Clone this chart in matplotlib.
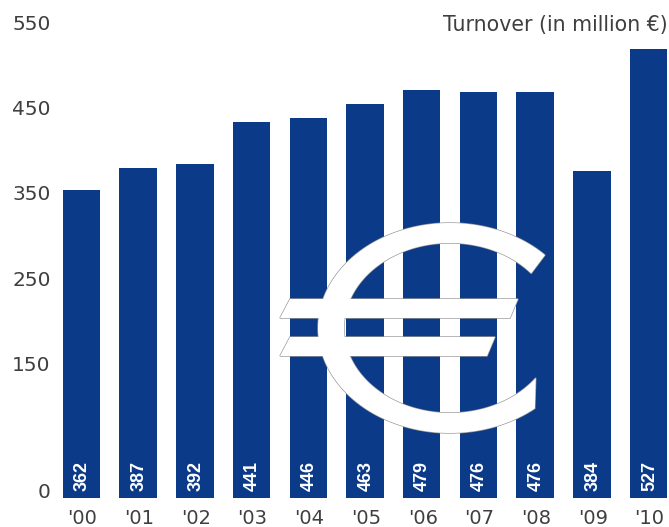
import numpy as np
import matplotlib
matplotlib.use('Agg')
import matplotlib.pyplot as plt
from matplotlib.patches import Polygon

years = ["'00", "'01", "'02", "'03", "'04", "'05", "'06", "'07", "'08", "'09", "'10"]
turnover = [362, 387, 392, 441, 446, 463, 479, 476, 476, 384, 527]
axis_ticks = [0, 150, 250, 350, 450, 550]

NAVY = '#0b3a88'
GREY = '#3f3f3f'
W, H = 669, 527

fig = plt.figure(figsize=(W / 100, H / 100), dpi=100, facecolor='white')

# bars fill the whole figure, the limits set the bar pitch and baseline
ax = fig.add_axes([0, 0, 1, 1])
ax.set_xlim(-81.5 / 56.7, (W - 81.5) / 56.7)
ax.set_ylim(-(H - 498) / 0.852, 498 / 0.852)
ax.axis('off')

x = np.arange(len(years))
ax.bar(x, turnover, width=0.66, color=NAVY, zorder=1)

for i, v in enumerate(turnover):
    ax.annotate(str(v), (i, 0), xytext=(1, 7), textcoords='offset pixels',
                rotation=90, ha='center', va='bottom', color='white',
                fontsize=13, fontweight='bold', family='Liberation Sans', zorder=5)
    ax.annotate(years[i], (i, 0), xytext=(1, -21), textcoords='offset pixels',
                ha='center', va='center', color=GREY, fontsize=14, family='DejaVu Sans')

for t in axis_ticks:
    ax.annotate(str(t), (0, t), xytext=(-31, 5), textcoords='offset pixels',
                ha='right', va='center', color=GREY, fontsize=14.5, family='DejaVu Sans')

ax.text(668, 527 - 25, 'Turnover (in million €)', transform=None, ha='right', va='center',
        color=GREY, fontsize=14.8, family='DejaVu Sans')

# euro sign on its own overlay, in image pixels
ov = fig.add_axes([0, 0, 1, 1], zorder=3)
ov.set_xlim(0, W)
ov.set_ylim(H, 0)
ov.axis('off')
ov.patch.set_alpha(0)

t_outer = np.radians(np.linspace(44, 310, 120))
t_inner = np.radians(np.linspace(324, 40, 120))
arc = np.column_stack([
    np.r_[450 + 132 * np.cos(t_outer), 450 + 106 * np.cos(t_inner)],
    np.r_[328 - 105 * np.sin(t_outer), 328 - 85 * np.sin(t_inner)],
])
upper = [(290, 299), (518, 299), (510, 318), (280, 318)]
lower = [(290, 337), (495, 337), (487, 356), (280, 356)]

# grey outline first, then white fill on top so inner edges disappear
for pts in (arc, upper, lower):
    ov.add_patch(Polygon(pts, closed=True, fc='white', ec='#9a9a9a', lw=1.0, zorder=1))
for pts in (arc, upper, lower):
    ov.add_patch(Polygon(pts, closed=True, fc='white', ec='none', zorder=2))

fig.savefig('out.png', dpi=100)
